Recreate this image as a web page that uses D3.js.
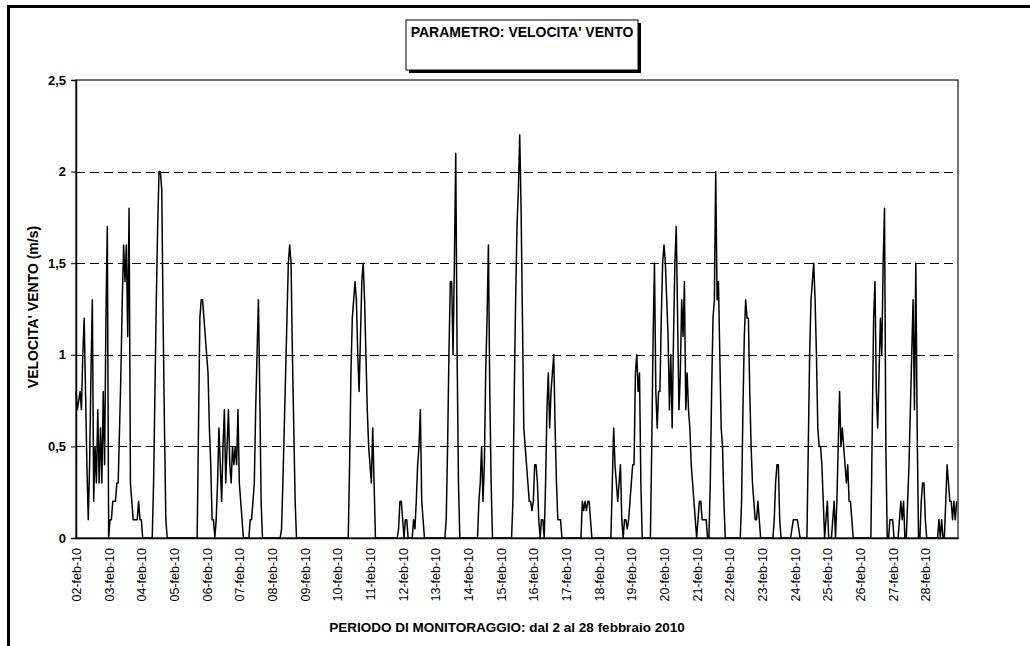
<!DOCTYPE html>
<html lang="it">
<head>
  <meta charset="UTF-8" />
  <title>Velocita' vento - febbraio 2010</title>
  <script src="https://cdn.jsdelivr.net/npm/d3@7/dist/d3.min.js"></script>
  <style>
    body {
      margin: 0;
      background: #fff;
      font-family: "Liberation Sans", Arial, sans-serif;
    }
    svg text {
      fill: #000;
    }
  </style>
</head>
<body>
  <div id="chart"></div>

  <script>
    // hourly wind speed (m/s), one array per day
    const feb02 = [0.8,0.7,0.75,0.8,0.7,1.0,1.2,0.8,0.4,0.1,0.4,0.9,1.3,0.2,0.5,0.3,0.7,0.3,0.6,0.3,0.8,0.4,1.2,1.7];
    const feb03 = [0,0.1,0.1,0.2,0.2,0.2,0.3,0.3,0.6,0.9,1.3,1.6,1.4,1.6,1.1,1.8,0.3,0.2,0.1,0.1,0.1,0.1,0.2,0.1];
    const feb04 = [0.1,0,0,0,0,0,0,0,0,0.3,0.8,1.3,1.7,2.0,2.0,1.9,1.2,0.6,0.1,0,0,0,0,0];
    const feb05 = [0,0,0,0,0,0,0,0,0,0,0,0,0,0,0,0,0,0,0.6,1.2,1.3,1.3,1.2,1.1];
    const feb06 = [1.0,0.9,0.6,0.4,0.1,0.1,0,0.1,0.3,0.6,0.4,0.2,0.5,0.7,0.3,0.5,0.7,0.4,0.3,0.5,0.4,0.5,0.4,0.7];
    const feb07 = [0.3,0.2,0.1,0,0,0,0,0,0.1,0.1,0.2,0.3,0.7,1.0,1.3,0.8,0.2,0,0,0,0,0,0,0];
    const feb08 = [0,0,0,0,0,0,0,0.05,0.3,0.6,0.9,1.2,1.5,1.6,1.5,1.0,0.6,0.2,0,0,0,0,0,0];
    const feb09 = [0,0,0,0,0,0,0,0,0,0,0,0,0,0,0,0,0,0,0,0,0,0,0,0];
    const feb10 = [0,0,0,0,0,0,0,0,0,0.4,0.9,1.2,1.3,1.4,1.3,1.0,0.8,1.1,1.4,1.5,1.3,1.0,0.7,0.5];
    const feb11 = [0.4,0.3,0.6,0.3,0,0,0,0,0,0,0,0,0,0,0,0,0,0,0,0,0,0.05,0.2,0.2];
    const feb12 = [0.1,0,0.1,0.1,0,0,0,0,0.1,0.05,0.2,0.4,0.5,0.7,0.2,0.1,0,0,0,0,0,0,0,0];
    const feb13 = [0,0,0,0,0,0,0,0,0.1,0.5,1.0,1.4,1.4,1.0,1.5,2.1,1.0,0.3,0,0,0,0,0,0];
    const feb14 = [0,0,0,0,0,0,0,0,0.2,0.3,0.5,0.2,0.4,0.9,1.2,1.6,0.8,0.3,0,0,0,0,0,0];
    const feb15 = [0,0,0,0,0,0,0,0,0,0.2,0.8,1.3,1.7,1.9,2.2,1.8,1.2,0.6,0.5,0.4,0.3,0.2,0.2,0.15];
    const feb16 = [0.2,0.4,0.4,0.3,0.1,0,0.1,0.1,0,0.3,0.7,0.9,0.6,0.8,0.9,1.0,0.6,0.3,0.1,0.1,0.1,0,0,0];
    const feb17 = [0,0,0,0,0,0,0,0,0,0,0,0,0.2,0.15,0.2,0.15,0.2,0.2,0.1,0,0,0,0,0];
    const feb18 = [0,0,0,0,0,0,0,0,0,0,0.3,0.6,0.4,0.3,0.2,0.3,0.4,0.1,0,0.1,0.1,0.05,0.1,0.2];
    const feb19 = [0.3,0.4,0.4,0.9,1.0,0.8,0.9,0.3,0,0,0,0,0,0,0,0.5,1.1,1.5,0.8,0.6,0.8,0.8,1.2,1.5];
    const feb20 = [1.6,1.5,1.3,1.1,0.7,1.0,0.6,1.1,1.5,1.7,1.2,0.7,0.9,1.3,1.1,1.4,0.7,0.9,0.7,0.6,0.4,0.3,0.2,0.1];
    const feb21 = [0,0.1,0.2,0.2,0.1,0.1,0.1,0.1,0,0,0.3,0.8,1.2,1.3,2.0,1.3,1.4,1.0,0.6,0.5,0.2,0,0,0];
    const feb22 = [0,0,0,0,0,0,0,0,0,0.2,0.7,1.1,1.3,1.2,1.2,0.8,0.5,0.3,0.2,0.1,0.1,0.2,0.1,0];
    const feb23 = [0,0,0,0,0,0,0,0,0,0.1,0.3,0.4,0.4,0.1,0,0,0,0,0,0,0,0,0.05,0.1];
    const feb24 = [0.1,0.1,0.1,0.05,0,0,0,0,0,0,0.5,1.0,1.3,1.4,1.5,1.3,1.0,0.6,0.5,0.5,0.4,0.2,0,0.1];
    const feb25 = [0.2,0,0,0,0.1,0.2,0,0.2,0.5,0.8,0.5,0.6,0.5,0.4,0.3,0.4,0.2,0.2,0.1,0,0,0,0,0];
    const feb26 = [0,0,0,0,0,0,0,0,0,0.6,1.2,1.4,0.8,0.6,0.9,1.2,1.0,1.5,1.8,0.5,0,0,0.1,0.1];
    const feb27 = [0.1,0,0,0,0,0.1,0.2,0.1,0.2,0,0,0.2,0.4,0.7,1.0,1.3,0.7,1.5,0.6,0,0,0.2,0.3,0.3];
    const feb28 = [0.1,0,0,0,0,0,0,0,0,0,0.1,0,0.1,0,0,0.2,0.4,0.3,0.2,0.2,0.1,0.2,0.1,0.2];

    const days = [feb02, feb03, feb04, feb05, feb06, feb07, feb08, feb09, feb10,
                  feb11, feb12, feb13, feb14, feb15, feb16, feb17, feb18, feb19,
                  feb20, feb21, feb22, feb23, feb24, feb25, feb26, feb27, feb28];

    const dayLabels = ["02-feb-10","03-feb-10","04-feb-10","05-feb-10","06-feb-10","07-feb-10",
                       "08-feb-10","09-feb-10","10-feb-10","11-feb-10","12-feb-10","13-feb-10",
                       "14-feb-10","15-feb-10","16-feb-10","17-feb-10","18-feb-10","19-feb-10",
                       "20-feb-10","21-feb-10","22-feb-10","23-feb-10","24-feb-10","25-feb-10",
                       "26-feb-10","27-feb-10","28-feb-10"];

    const yTicks = [0, 0.5, 1, 1.5, 2, 2.5];
    const gridValues = [0.5, 1, 1.5, 2];

    const chartTitle = "PARAMETRO: VELOCITA' VENTO";
    const xTitle = "PERIODO DI MONITORAGGIO: dal 2 al 28 febbraio 2010";
    const yTitle = "VELOCITA' VENTO (m/s)";

    // flatten to hourly series
    const series = days.flat().map((v, i) => ({ hour: i, value: v }));
    const hoursPerDay = 24;

    const width = 1030;
    const height = 646;
    const margin = { top: 80, right: 72, bottom: 108, left: 76 };

    const svg = d3.select("#chart")
      .append("svg")
      .attr("width", width)
      .attr("height", height);

    // outer page frame (left + top only)
    svg.append("line")
      .attr("x1", 8.5).attr("x2", 8.5)
      .attr("y1", 5).attr("y2", height)
      .attr("stroke", "#000").attr("stroke-width", 3);
    svg.append("line")
      .attr("x1", 7).attr("x2", width)
      .attr("y1", 6.5).attr("y2", 6.5)
      .attr("stroke", "#000").attr("stroke-width", 3);

    const x = d3.scaleLinear()
      .domain([0, days.length * hoursPerDay])
      .range([margin.left, width - margin.right]);

    const y = d3.scaleLinear()
      .domain([0, 2.5])
      .range([height - margin.bottom, margin.top]);

    // gridlines
    svg.append("g")
      .selectAll("line")
      .data(gridValues)
      .join("line")
      .attr("x1", x.range()[0])
      .attr("x2", x.range()[1])
      .attr("y1", d => Math.round(y(d)) + 0.5)
      .attr("y2", d => Math.round(y(d)) + 0.5)
      .attr("stroke", "#000")
      .attr("stroke-width", 1)
      .attr("stroke-dasharray", "9,5");

    // plot frame
    svg.append("rect")
      .attr("x", x.range()[0])
      .attr("y", y(2.5))
      .attr("width", x.range()[1] - x.range()[0])
      .attr("height", y(0) - y(2.5))
      .attr("fill", "none")
      .attr("stroke", "#444")
      .attr("stroke-width", 1.5);

    // data line
    const line = d3.line()
      .x(d => x(d.hour))
      .y(d => y(d.value));

    svg.append("path")
      .datum(series)
      .attr("fill", "none")
      .attr("stroke", "#000")
      .attr("stroke-width", 1.5)
      .attr("stroke-linejoin", "round")
      .attr("d", line);

    // y axis
    const yAxis = svg.append("g")
      .attr("transform", `translate(${margin.left}, 0)`)
      .call(d3.axisLeft(y)
        .tickValues(yTicks)
        .tickSize(5)
        .tickPadding(5)
        .tickFormat(d => String(d).replace(".", ",")));

    yAxis.select(".domain").attr("stroke", "#000").attr("stroke-width", 1.5);
    yAxis.selectAll(".tick line").attr("stroke", "#000");
    yAxis.selectAll(".tick text")
      .attr("font-family", "'Liberation Sans', Arial, sans-serif")
      .attr("font-size", 13)
      .attr("font-weight", "bold");

    // x axis (day labels at day starts, rotated)
    const xAxis = svg.append("g")
      .attr("transform", `translate(0, ${y(0)})`)
      .call(d3.axisBottom(x)
        .tickValues(dayLabels.map((d, i) => i * hoursPerDay))
        .tickSize(0)
        .tickFormat((d, i) => dayLabels[i]));

    xAxis.select(".domain").attr("stroke", "#000").attr("stroke-width", 1.5);
    xAxis.selectAll(".tick text")
      .attr("font-family", "'Liberation Sans', Arial, sans-serif")
      .attr("font-size", 12.5)
      .attr("text-anchor", "end")
      .attr("dy", "0.35em")
      .attr("transform", "translate(0, 10) rotate(-90)")
      .attr("x", 0)
      .attr("y", 0);

    // axis titles
    svg.append("text")
      .attr("x", 507)
      .attr("y", 632)
      .attr("text-anchor", "middle")
      .attr("font-size", 13.5)
      .attr("font-weight", "bold")
      .text(xTitle);

    svg.append("text")
      .attr("transform", "translate(38, 307) rotate(-90)")
      .attr("text-anchor", "middle")
      .attr("font-size", 14)
      .attr("font-weight", "bold")
      .text(yTitle);

    // title box with shadow
    const box = { x: 406, y: 20, w: 232, h: 50 };
    svg.append("rect")
      .attr("x", box.x + 3).attr("y", box.y + 3)
      .attr("width", box.w).attr("height", box.h)
      .attr("fill", "#000");
    svg.append("rect")
      .attr("x", box.x).attr("y", box.y)
      .attr("width", box.w).attr("height", box.h)
      .attr("fill", "#fff")
      .attr("stroke", "#000")
      .attr("stroke-width", 1);
    svg.append("text")
      .attr("x", box.x + box.w / 2)
      .attr("y", box.y + 17)
      .attr("text-anchor", "middle")
      .attr("font-size", 14)
      .attr("font-weight", "bold")
      .text(chartTitle);
  </script>
</body>
</html>
